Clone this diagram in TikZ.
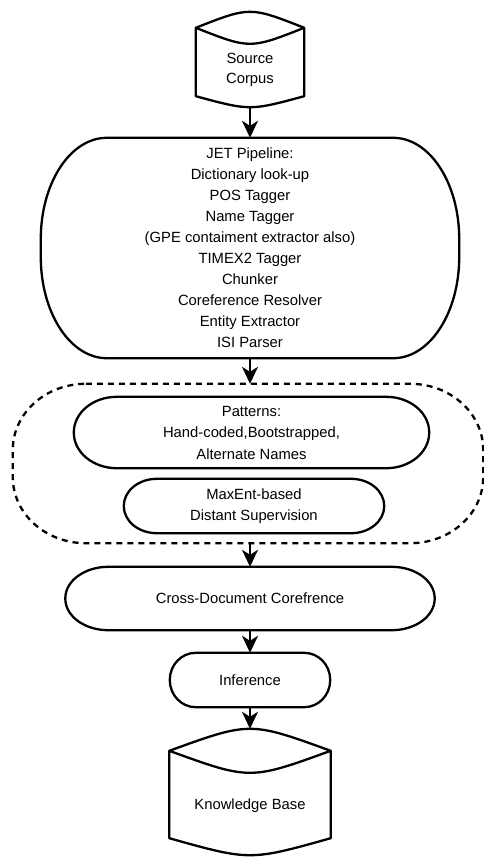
\documentclass[tikz,border=0pt]{standalone}
\usepackage{fontspec}
\setmainfont{Liberation Sans}
\usetikzlibrary{arrows.meta}

% oval outline round a node: style, node, x radius, y radius
\newcommand{\ovalframe}[4][]{%
  \draw[#1] ([xshift=#3pt]#2.north west) -- ([xshift=-#3pt]#2.north east)
    arc[start angle=90, end angle=0, x radius=#3pt, y radius=#4pt]
    -- ([yshift=#4pt]#2.south east)
    arc[start angle=0, end angle=-90, x radius=#3pt, y radius=#4pt]
    -- ([xshift=#3pt]#2.south west)
    arc[start angle=270, end angle=180, x radius=#3pt, y radius=#4pt]
    -- ([yshift=-#4pt]#2.north west)
    arc[start angle=180, end angle=90, x radius=#3pt, y radius=#4pt]
    -- cycle;}

% disk outline round a node: style, node, top depth, bottom depth
\newcommand{\diskframe}[4][]{%
  \draw[#1] ([yshift=#3pt]#2.north west)
    .. controls ([yshift={2.333*#3pt}]#2.north) .. ([yshift=#3pt]#2.north east)
    .. controls ([yshift={-0.333*#3pt}]#2.north) .. ([yshift=#3pt]#2.north west)
    -- (#2.south west)
    .. controls ([yshift={-1.333*#4pt}]#2.south) .. (#2.south east)
    -- ([yshift=#3pt]#2.north east);}

\tikzset{
  stage/.style={align=center, inner sep=0pt, font=\fontsize{14.8}{21}\selectfont},
  outline/.style={line width=2.3pt, line join=round},
  groupline/.style={line width=2.3pt, dash pattern=on 6pt off 5pt},
  flow/.style={line width=2.3pt, -{Stealth[length=17pt, width=16pt, inset=5pt]}},
}

\begin{document}
\begin{tikzpicture}[x=1pt, y=-1pt]
  \useasboundingbox (0,0) rectangle (484,857);

  % Stages
  \node[stage, minimum width=108pt, minimum height=52pt, font=\fontsize{14.8}{20}\selectfont] (src) at (250,70) {Source\\Corpus};
  \node[stage, minimum width=418pt, minimum height=220pt] (jet) at (250,248)
    {JET Pipeline:\\Dictionary look-up\\POS Tagger\\Name Tagger\\(GPE contaiment extractor also)\\TIMEX2 Tagger\\Chunker\\Coreference Resolver\\Entity Extractor\\ISI Parser};
  \node[stage, minimum width=470pt, minimum height=159pt] (grp) at (248,463.5) {};
  \node[stage, minimum width=355pt, minimum height=71pt, font=\fontsize{14.8}{21.5}\selectfont] (pat) at (251.5,432.5)
    {Patterns:\\Hand-coded,Bootstrapped,\\Alternate Names};
  \node[stage, minimum width=260pt, minimum height=54pt] (maxent) at (254,506) {MaxEnt-based\\Distant Supervision};
  \node[stage, minimum width=369pt, minimum height=63pt] (xdoc) at (250,598.5) {Cross-Document Corefrence};
  \node[stage, minimum width=160pt, minimum height=54pt] (infer) at (250,680) {Inference};
  \node[stage, minimum width=161pt, minimum height=65pt] (kb) at (250,805.5) {Knowledge Base};

  % Outlines
  \diskframe[outline]{src}{16}{11}
  \ovalframe[outline]{jet}{66}{101}
  \ovalframe[groupline]{grp}{73}{66}
  \ovalframe[outline]{pat}{43}{35.5}
  \ovalframe[outline]{maxent}{33}{27}
  \ovalframe[outline]{xdoc}{43}{31.5}
  \ovalframe[outline]{infer}{26}{27}
  \diskframe[outline]{kb}{22}{17}

  % Connectors
  \draw[flow] ([yshift=-11pt]src.south) -- (jet.north);
  \draw[flow] (jet.south) -- (grp.north -| jet.south);
  \draw[flow] (grp.south -| jet.south) -- (xdoc.north);
  \draw[flow] (xdoc.south) -- (infer.north);
  \draw[flow] (infer.south) -- ([yshift=44pt]kb.north);
\end{tikzpicture}
\end{document}
